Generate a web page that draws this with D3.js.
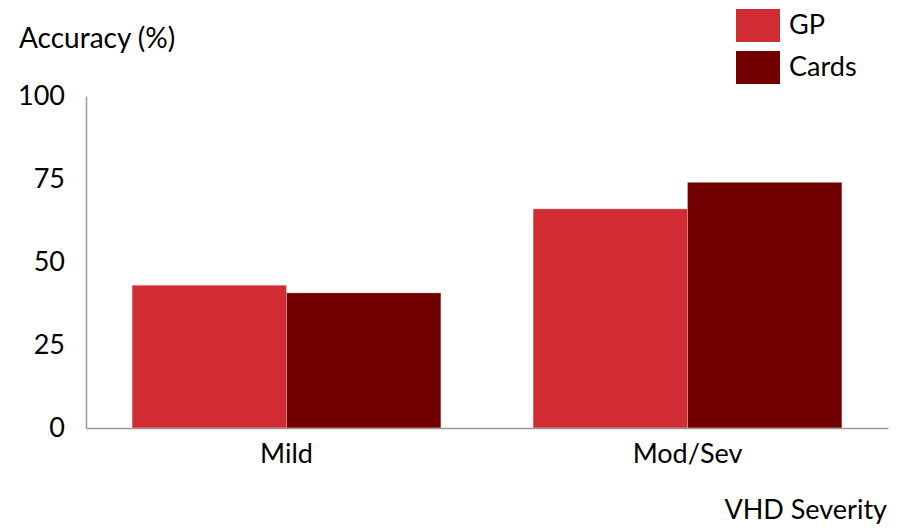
<!DOCTYPE html>
<html lang="en">
<head>
    <meta charset="UTF-8">
    <title>VHD Severity Accuracy</title>
    <script src="https://d3js.org/d3.v7.min.js"></script>
    <style>
        body { margin: 0; background: #fff; }
        svg { display: block; font-family: Lato, "Open Sans", sans-serif; }
    </style>
</head>
<body>
    <div id="chart"></div>

    <script>
        // data
        const categories = ["Mild", "Mod/Sev"];
        const series = ["GP", "Cards"];
        const gpValues = [43, 66];
        const cardsValues = [40.7, 74];
        const yTicks = [0, 25, 50, 75, 100];
        const colors = ["#d12b33", "#730000"];

        const width = 907, height = 528;
        const x0 = 86, x1 = 888, yTop = 96, yBottom = 428;

        const svg = d3.select("#chart").append("svg")
            .attr("width", width)
            .attr("height", height);

        const x = d3.scaleBand().domain(categories).range([x0, x1])
            .paddingInner(0.23).paddingOuter(0.115);
        const xs = d3.scaleBand().domain(series).range([0, x.bandwidth()]).padding(0);
        const y = d3.scaleLinear().domain([0, 100]).range([yBottom, yTop]);

        const rows = categories.map((c, i) => ({ cat: c, vals: [gpValues[i], cardsValues[i]] }));

        // bars
        const groups = svg.append("g").selectAll("g")
            .data(rows).join("g")
            .attr("transform", d => `translate(${x(d.cat)},0)`);

        groups.selectAll("rect")
            .data(d => d.vals.map((v, j) => ({ s: series[j], v, j })))
            .join("rect")
            .attr("x", d => xs(d.s))
            .attr("y", d => y(d.v))
            .attr("width", xs.bandwidth())
            .attr("height", d => y(0) - y(d.v))
            .attr("fill", d => colors[d.j])
            .attr("stroke", "rgba(255,255,255,0.35)")
            .attr("stroke-width", 0.8);

        // y axis
        const yAxis = svg.append("g")
            .attr("transform", `translate(${x0},0)`)
            .call(d3.axisLeft(y).tickValues(yTicks).tickSize(0).tickPadding(21));
        yAxis.select(".domain").attr("stroke", "#9a9a9a").attr("stroke-width", 1.5);
        yAxis.selectAll("text").attr("font-size", 27).attr("fill", "#000")
            .attr("font-family", "Lato, sans-serif");

        // x axis
        const xAxis = svg.append("g")
            .attr("transform", `translate(0,${yBottom})`)
            .call(d3.axisBottom(x).tickSize(0).tickPadding(16));
        xAxis.select(".domain").attr("stroke", "#9a9a9a").attr("stroke-width", 1.5);
        xAxis.selectAll("text").attr("font-size", 27).attr("fill", "#000")
            .attr("font-family", "Lato, sans-serif");

        // axis titles
        svg.append("text")
            .attr("x", 19).attr("y", 48)
            .attr("font-size", 28)
            .text("Accuracy (%)");

        svg.append("text")
            .attr("x", 887).attr("y", 519)
            .attr("text-anchor", "end")
            .attr("font-size", 27)
            .text("VHD Severity");

        // legend
        const legend = svg.append("g").selectAll("g")
            .data(series).join("g")
            .attr("transform", (d, i) => `translate(736,${9 + i * 42})`);
        legend.append("rect")
            .attr("width", 44).attr("height", 33)
            .attr("fill", (d, i) => colors[i]);
        legend.append("text")
            .attr("x", 53).attr("y", 25)
            .attr("font-size", 27)
            .text(d => d);
    </script>
</body>
</html>
